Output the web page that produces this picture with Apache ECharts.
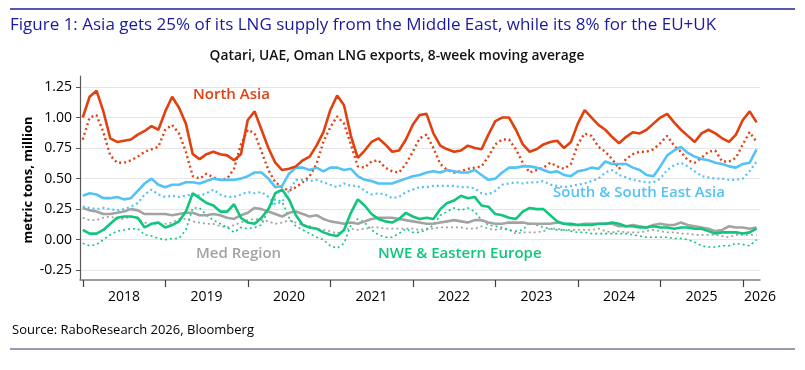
<!DOCTYPE html>
<html><head><meta charset="utf-8">
<script src="https://cdn.jsdelivr.net/npm/echarts@6/dist/echarts.min.js"></script>
<style>html,body{margin:0;padding:0;background:#fff}#c{width:805px;height:370px}</style>
</head><body><div id="c"></div>
<script>
// Months since Jan 2018 (index) -> monthly readings of 8-week MA, million tonnes
const yearLabels = ['2018','2019','2020','2021','2022','2023','2024','2025','2026'];
const yearTickMonths = [0,12,24,36,48,60,72,84,96];
const yearLabelMonths = [6,18,30,42,54,66,78,90,98.5];
const yTicks = [-0.25,0,0.25,0.5,0.75,1,1.25];

const northAsia = [1.00,1.17,1.22,1.05,0.83,0.80,0.81,0.82,0.86,0.89,0.93,0.90,
 1.05,1.17,1.08,0.95,0.70,0.66,0.70,0.72,0.70,0.69,0.65,0.70,
 0.98,1.05,0.90,0.75,0.63,0.57,0.58,0.60,0.65,0.68,0.77,0.88,
 1.06,1.18,1.10,0.85,0.67,0.73,0.80,0.83,0.78,0.72,0.73,0.82,
 0.94,1.02,1.03,0.87,0.77,0.74,0.72,0.73,0.77,0.75,0.74,0.86,
 0.97,1.00,1.00,0.90,0.78,0.72,0.74,0.78,0.80,0.81,0.75,0.80,
 0.95,1.06,1.00,0.94,0.90,0.84,0.79,0.84,0.88,0.87,0.90,0.95,
 1.00,1.03,0.96,0.90,0.85,0.80,0.87,0.90,0.87,0.83,0.80,0.86,
 0.98,1.05,0.96];
const northAsiaDotted = [0.82,1.00,1.02,0.88,0.69,0.63,0.63,0.65,0.68,0.72,0.74,0.76,
 0.90,0.94,0.87,0.72,0.52,0.50,0.54,0.51,0.49,0.50,0.58,0.78,
 0.90,0.87,0.72,0.57,0.47,0.43,0.40,0.43,0.47,0.52,0.62,0.80,
 0.92,1.01,0.95,0.78,0.60,0.59,0.64,0.65,0.59,0.56,0.55,0.62,
 0.72,0.83,0.86,0.75,0.62,0.57,0.55,0.56,0.58,0.59,0.60,0.68,
 0.78,0.82,0.82,0.74,0.63,0.55,0.57,0.59,0.63,0.60,0.58,0.62,
 0.78,0.87,0.85,0.76,0.72,0.66,0.58,0.66,0.70,0.72,0.72,0.74,
 0.79,0.85,0.77,0.72,0.65,0.63,0.67,0.72,0.73,0.64,0.64,0.67,
 0.78,0.88,0.80];
const southAsia = [0.36,0.38,0.37,0.34,0.34,0.35,0.33,0.34,0.40,0.46,0.50,0.45,
 0.43,0.45,0.45,0.47,0.47,0.46,0.48,0.50,0.49,0.49,0.49,0.50,
 0.52,0.55,0.55,0.50,0.43,0.44,0.54,0.59,0.59,0.57,0.59,0.56,
 0.59,0.59,0.57,0.58,0.52,0.49,0.48,0.46,0.46,0.46,0.48,0.50,
 0.52,0.53,0.55,0.56,0.55,0.57,0.56,0.55,0.55,0.57,0.53,0.49,
 0.50,0.55,0.59,0.59,0.60,0.60,0.59,0.57,0.55,0.56,0.53,0.52,
 0.56,0.57,0.59,0.58,0.64,0.62,0.62,0.62,0.59,0.57,0.53,0.52,
 0.60,0.69,0.73,0.76,0.71,0.68,0.66,0.65,0.63,0.62,0.60,0.59,
 0.62,0.63,0.74];
const southAsiaDotted = [0.27,0.26,0.25,0.26,0.25,0.24,0.25,0.27,0.30,0.37,0.41,0.37,
 0.35,0.36,0.35,0.36,0.37,0.36,0.38,0.41,0.37,0.35,0.35,0.37,
 0.39,0.38,0.39,0.35,0.29,0.31,0.40,0.49,0.49,0.48,0.49,0.47,
 0.45,0.43,0.46,0.44,0.44,0.40,0.37,0.38,0.37,0.34,0.35,0.39,
 0.41,0.43,0.43,0.44,0.44,0.44,0.44,0.43,0.43,0.42,0.38,0.37,
 0.40,0.45,0.46,0.47,0.46,0.47,0.47,0.48,0.45,0.44,0.43,0.44,
 0.45,0.46,0.48,0.50,0.55,0.57,0.53,0.51,0.49,0.48,0.47,0.47,
 0.50,0.57,0.61,0.63,0.60,0.56,0.52,0.51,0.50,0.50,0.49,0.49,
 0.50,0.56,0.64];
const medRegion = [0.26,0.24,0.23,0.21,0.21,0.22,0.23,0.25,0.24,0.21,0.21,0.21,
 0.21,0.20,0.21,0.22,0.22,0.20,0.20,0.21,0.20,0.18,0.17,0.20,
 0.22,0.26,0.25,0.23,0.21,0.19,0.22,0.23,0.21,0.19,0.20,0.17,
 0.15,0.14,0.13,0.14,0.13,0.15,0.17,0.18,0.18,0.18,0.17,0.16,
 0.15,0.14,0.13,0.13,0.14,0.15,0.16,0.15,0.14,0.16,0.16,0.14,
 0.13,0.13,0.14,0.14,0.14,0.13,0.13,0.13,0.13,0.14,0.13,0.12,
 0.12,0.13,0.13,0.13,0.13,0.13,0.11,0.11,0.12,0.11,0.10,0.12,
 0.13,0.12,0.12,0.14,0.12,0.11,0.10,0.09,0.07,0.08,0.11,0.10,
 0.10,0.09,0.10];
const medRegionDotted = [0.18,0.16,0.16,0.18,0.19,0.17,0.17,0.19,0.17,0.14,0.13,0.13,
 0.13,0.14,0.17,0.17,0.15,0.14,0.13,0.13,0.11,0.10,0.12,0.14,
 0.16,0.17,0.16,0.15,0.13,0.14,0.16,0.14,0.12,0.11,0.09,0.08,
 0.07,0.05,0.08,0.09,0.08,0.09,0.10,0.10,0.09,0.09,0.09,0.09,
 0.09,0.08,0.09,0.09,0.10,0.10,0.10,0.10,0.09,0.09,0.11,0.09,
 0.08,0.09,0.08,0.05,0.06,0.06,0.06,0.07,0.09,0.09,0.08,0.08,
 0.08,0.08,0.08,0.09,0.07,0.06,0.07,0.06,0.06,0.06,0.07,0.08,
 0.07,0.06,0.06,0.05,0.05,0.04,0.04,0.04,0.04,0.03,0.02,0.04,
 0.04,0.04,0.04];
const nweEurope = [0.08,0.05,0.05,0.08,0.13,0.18,0.19,0.19,0.18,0.10,0.13,0.14,
 0.10,0.12,0.15,0.23,0.38,0.34,0.30,0.28,0.23,0.23,0.29,0.18,
 0.14,0.13,0.18,0.25,0.38,0.41,0.33,0.20,0.12,0.10,0.09,0.06,
 0.04,0.03,0.08,0.22,0.33,0.28,0.21,0.17,0.15,0.14,0.17,0.22,
 0.19,0.17,0.18,0.17,0.25,0.30,0.32,0.36,0.34,0.35,0.28,0.27,
 0.21,0.20,0.18,0.17,0.23,0.26,0.25,0.25,0.20,0.15,0.13,0.13,
 0.12,0.12,0.12,0.13,0.13,0.14,0.13,0.11,0.11,0.10,0.10,0.11,
 0.10,0.10,0.09,0.10,0.10,0.09,0.09,0.07,0.05,0.06,0.06,0.06,
 0.05,0.06,0.09];
const nweEuropeDotted = [-0.03,-0.05,-0.04,0.00,0.04,0.07,0.08,0.09,0.09,0.04,0.03,0.01,
 0.00,0.01,0.01,0.08,0.26,0.26,0.20,0.16,0.13,0.10,0.06,0.10,
 0.09,0.10,0.12,0.25,0.33,0.31,0.18,0.11,0.08,0.05,0.02,0.00,
 -0.05,-0.07,-0.03,0.12,0.17,0.14,0.08,0.04,0.02,0.02,0.05,0.09,
 0.06,0.06,0.08,0.12,0.20,0.23,0.26,0.24,0.26,0.23,0.16,0.12,
 0.11,0.10,0.08,0.07,0.08,0.14,0.12,0.10,0.09,0.08,0.08,0.07,
 0.06,0.06,0.05,0.05,0.05,0.05,0.05,0.05,0.04,0.03,0.02,0.02,
 0.02,0.02,0.01,0.01,0.00,-0.02,-0.05,-0.06,-0.06,-0.05,-0.05,-0.03,
 -0.04,-0.05,0.00];

const RED = '#E2400F', BLUE = '#52C2F7', GREY = '#A3A3A3', GREEN = '#0FC67C';
const FONT = 'Open Sans';
const pts = arr => arr.map((v, i) => [i, v]);

function solid(name, data, color, z) {
  return { name, type: 'line', data: pts(data), showSymbol: false, smooth: false, z,
    lineStyle: { color, width: 2.6 }, itemStyle: { color }, silent: true, animation: false };
}
function dotted(name, data, color, z, w) {
  return { name, type: 'line', data: pts(data), showSymbol: false, smooth: false, z,
    lineStyle: { color, width: w || 2, type: [2, 3] }, itemStyle: { color }, silent: true, animation: false };
}

const chart = echarts.init(document.getElementById('c'), null, { renderer: 'canvas' });
chart.setOption({
  backgroundColor: '#fff',
  animation: false,
  grid: { left: 80, right: 45, top: 76, bottom: 90, containLabel: false },
  xAxis: {
    type: 'value', min: -0.4, max: 98.5,
    axisLine: { show: true, onZero: false, lineStyle: { color: '#808080', width: 1.5 } },
    axisTick: { show: true, customValues: yearTickMonths, length: 7, lineStyle: { color: '#404040', width: 1.2 } },
    axisLabel: { customValues: yearLabelMonths, formatter: v => yearLabels[yearLabelMonths.indexOf(v)],
      color: '#000', fontFamily: FONT, fontSize: 14, margin: 10 },
    splitLine: { show: false }
  },
  yAxis: {
    type: 'value', min: -0.33, max: 1.34,
    axisLine: { show: true, onZero: false, lineStyle: { color: '#595959', width: 1.2 } },
    axisTick: { show: true, customValues: yTicks, length: 4, lineStyle: { color: '#595959' } },
    axisLabel: { customValues: yTicks, formatter: v => v.toFixed(2), color: '#000', fontFamily: FONT, fontSize: 14, margin: 8 },
    splitLine: { show: true, lineStyle: { color: '#e6e6e6', width: 1 } }
  },
  series: [
    dotted('Med Region (dotted)', medRegionDotted, GREY, 2, 1.8),
    dotted('NWE & Eastern Europe (dotted)', nweEuropeDotted, GREEN, 2, 1.6),
    dotted('South & South East Asia (dotted)', southAsiaDotted, BLUE, 2, 2.2),
    dotted('North Asia (dotted)', northAsiaDotted, RED, 2, 2.4),
    solid('Med Region', medRegion, GREY, 3),
    solid('NWE & Eastern Europe', nweEurope, GREEN, 3),
    solid('South & South East Asia', southAsia, BLUE, 3),
    solid('North Asia', northAsia, RED, 3)
  ],
  graphic: [
    { type: 'line', shape: { x1: 10, y1: 9, x2: 795, y2: 9 }, style: { stroke: '#1F1F99', lineWidth: 1.5 } },
    { type: 'text', style: { text: 'Figure 1: Asia gets 25% of its LNG supply from the Middle East, while its 8% for the EU+UK',
        x: 10, y: 25, textVerticalAlign: 'middle', fill: '#1A1A9C', font: '17px "Open Sans"' } },
    { type: 'text', style: { text: 'Qatari, UAE, Oman LNG exports, 8-week moving average',
        x: 397, y: 56, textAlign: 'center', textVerticalAlign: 'middle', fill: '#111', font: '600 13.8px "Open Sans"' } },
    { type: 'text', rotation: Math.PI / 2, x: 28, y: 180, style: { text: 'metric tons, million',
        textAlign: 'center', textVerticalAlign: 'middle', fill: '#000', font: 'bold 13px "Open Sans"' } },
    { type: 'text', style: { text: 'North Asia', x: 193, y: 95, textVerticalAlign: 'middle', fill: RED, font: '600 15px "Open Sans"' } },
    { type: 'text', style: { text: 'South & South East Asia', x: 553, y: 193, textVerticalAlign: 'middle', fill: BLUE, font: '600 15px "Open Sans"' } },
    { type: 'text', style: { text: 'Med Region', x: 196, y: 254, textVerticalAlign: 'middle', fill: GREY, font: '600 15px "Open Sans"' } },
    { type: 'text', style: { text: 'NWE & Eastern Europe', x: 378, y: 254, textVerticalAlign: 'middle', fill: GREEN, font: '600 15px "Open Sans"' } },
    { type: 'text', style: { text: 'Source: RaboResearch 2026, Bloomberg', x: 12, y: 330, textVerticalAlign: 'middle', fill: '#000', font: '13px "Open Sans"' } },
    { type: 'line', shape: { x1: 10, y1: 349, x2: 795, y2: 349 }, style: { stroke: '#333366', lineWidth: 1 } }
  ]
});
</script></body></html>
